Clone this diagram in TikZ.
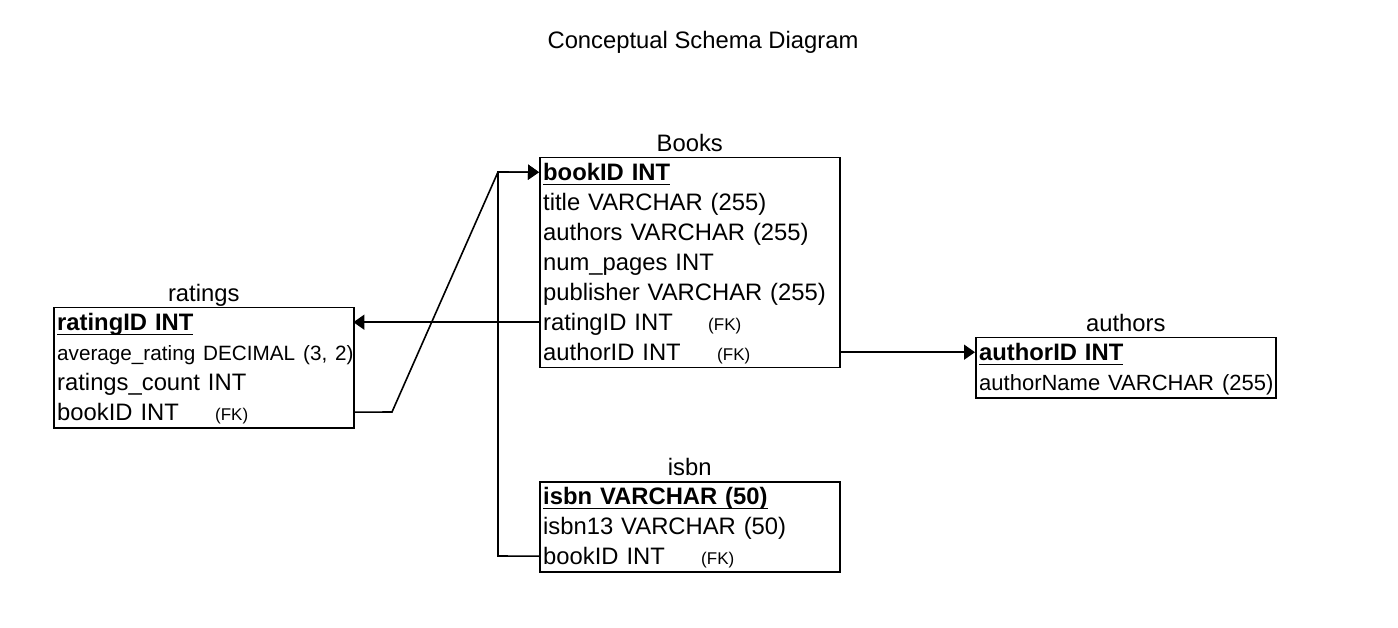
\documentclass[tikz,border=0pt]{standalone}
\usepackage{fontspec}
\setmainfont{Liberation Sans}
\usetikzlibrary{arrows.meta}
\newcommand\mainfs{\fontsize{23.8}{28}\selectfont}
\newcommand\fkfs{\fontsize{17}{20}\selectfont}
\newcommand\ulbf[1]{\setbox0\hbox{\bfseries #1}\rlap{\raisebox{-4.5pt}{\rule{\wd0}{1.5pt}}}\box0}
\newcommand\fkrow[2]{\makebox[#1][l]{#2}{\fkfs (FK)}}
\newcommand\rt[1]{\mbox{#1}}
\tikzset{
  tbl/.style={draw, line width=1.5pt, minimum width=300pt, anchor=north west, inner sep=0pt},
  row/.style={anchor=north west, minimum width=300pt, minimum height=30pt, inner sep=0pt,
    inner xsep=4pt, text height=17pt, text depth=0pt, align=left, text width=292pt, font=\mainfs},
  tlabel/.style={anchor=base, font=\mainfs, yshift=5.5pt, inner sep=0pt},
  conn/.style={line width=1.6pt, -{Triangle[length=11pt,width=15pt]}}
}
\begin{document}
\begin{tikzpicture}[x=1pt,y=-1pt]
\useasboundingbox (0,0) rectangle (1398,628);
\node[anchor=base, font=\mainfs, inner sep=0pt] (title) at (703,48.5) {Conceptual Schema Diagram};

% Books
\node[tbl, minimum height=210pt] (books) at (539,157) {};
\node[tlabel] (booksL) at (books.north) {Books};
\node[row] (b-id) at (539,157) {\ulbf{bookID INT}};
\node[row] (b-title) at (539,187) {\rt{title VARCHAR (255)}};
\node[row] (b-authors) at (539,217) {\rt{authors VARCHAR (255)}};
\node[row] (b-pages) at (539,247) {\rt{num\_pages INT}};
\node[row] (b-pub) at (539,277) {\rt{publisher VARCHAR (255)}};
\node[row] (b-rat) at (539,307) {\fkrow{165pt}{ratingID INT}};
\node[row] (b-auth) at (539,337) {\fkrow{174pt}{authorID INT}};

% ratings
\node[tbl, minimum height=120pt] (ratings) at (53,307) {};
\node[tlabel] (ratingsL) at (ratings.north) {ratings};
\node[row] (r-id) at (53,307) {\ulbf{ratingID INT}};
\node[row] (r-avg) at (53,337) {\rt{\fontsize{20.7}{24}\selectfont average\_rating DECIMAL (3, 2)}};
\node[row] (r-cnt) at (53,367) {\rt{ratings\_count INT}};
\node[row] (r-book) at (53,397) {\fkrow{158pt}{bookID INT}};

% authors
\node[tbl, minimum height=60pt] (authors) at (975,337) {};
\node[tlabel] (authorsL) at (authors.north) {authors};
\node[row] (a-id) at (975,337) {\ulbf{authorID INT}};
\node[row] (a-name) at (975,367) {\rt{\fontsize{22}{26}\selectfont authorName VARCHAR (255)}};

% isbn
\node[tbl, minimum height=90pt] (isbn) at (539,481) {};
\node[tlabel] (isbnL) at (isbn.north) {isbn};
\node[row] (i-id) at (539,481) {\ulbf{isbn VARCHAR (50)}};
\node[row] (i-13) at (539,511) {\rt{isbn13 VARCHAR (50)}};
\node[row] (i-book) at (539,541) {\fkrow{158pt}{bookID INT}};

% connectors
\coordinate (k1) at (392,412);
\coordinate (k2) at (498,172);
\coordinate (k3) at (498,556);
\draw[conn] (b-rat.west) -- (r-id.east);
\draw[conn] (r-book.east) -- (k1) -- (k2) -- (b-id.west);
\draw[conn] (i-book.west) -- (k3) -- (k2) -- (b-id.west);
\draw[conn] (b-auth.east) -- (a-id.west);
\end{tikzpicture}
\end{document}
